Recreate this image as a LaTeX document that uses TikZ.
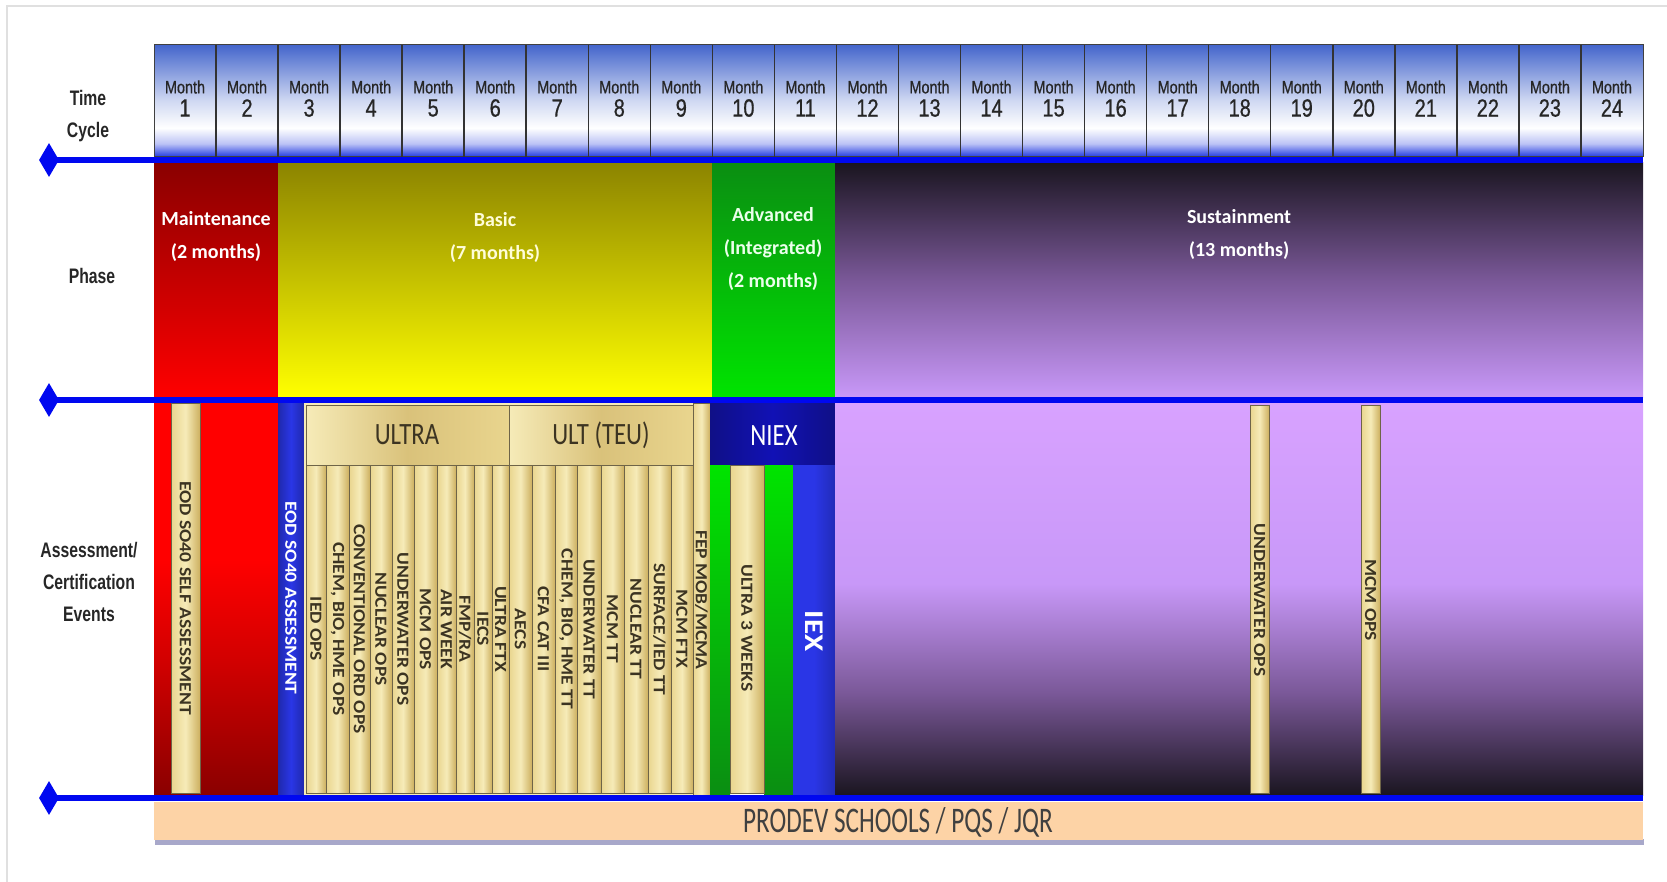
\documentclass[tikz,border=0pt]{standalone}
\usepackage{fontspec}
\usetikzlibrary{shapes.geometric}
\newfontfamily\narrowfont[FakeStretch=0.8, FakeBold=0.6]{Liberation Sans}
\newfontfamily\labelfont[FakeStretch=0.75]{Liberation Sans Bold}
\newfontfamily\calfont{Carlito}
\newfontfamily\calnarrow[FakeStretch=0.8]{Carlito}
\newfontfamily\calcond[FakeStretch=0.7]{Carlito}
\newfontfamily\colfont[FakeStretch=1.15]{Carlito}

\definecolor{hdrtop}{HTML}{4466CC}
\definecolor{hdrbot}{HTML}{2038E0}
\definecolor{lineblue}{HTML}{0008F0}
\definecolor{mntdark}{HTML}{8A0000}
\definecolor{mntred}{HTML}{FF0000}
\definecolor{basdark}{HTML}{8C8400}
\definecolor{basyel}{HTML}{FFFF00}
\definecolor{advdark}{HTML}{0A8E12}
\definecolor{advgreen}{HTML}{00E400}
\definecolor{susdark}{HTML}{1A1520}
\definecolor{susmid}{HTML}{7A5898}
\definecolor{suslight}{HTML}{C898F8}
\definecolor{suspale}{HTML}{D8A2FF}
\definecolor{goldL}{HTML}{E9D58E}
\definecolor{goldM}{HTML}{F6EBB8}
\definecolor{goldR}{HTML}{CDB060}
\definecolor{goldline}{HTML}{6E6448}
\definecolor{goldtext}{HTML}{3C3422}
\definecolor{navy}{HTML}{1414A8}
\definecolor{barblue}{HTML}{2A36E6}
\definecolor{peach}{HTML}{FDD3A6}
\definecolor{lbltext}{HTML}{262626}

% header cells: blue, white band low down, blue again at the bottom
\pgfdeclareverticalshading{monthcell}{100bp}{color(0bp)=(hdrbot); color(25bp)=(hdrbot);
  color(31bp)=(white!70!hdrbot); color(38bp)=(white); color(50bp)=(white!75!hdrtop);
  color(75bp)=(hdrtop); color(100bp)=(hdrtop)}
% light most of the way down, dark only near the bottom
\pgfdeclareverticalshading{susfade}{100bp}{color(0bp)=(susdark); color(25bp)=(susdark);
  color(38bp)=(susmid); color(52bp)=(suslight); color(75bp)=(suspale); color(100bp)=(suspale)}
\pgfdeclareverticalshading{redfade}{100bp}{color(0bp)=(mntdark); color(25bp)=(mntdark);
  color(42bp)=(mntred!82!black); color(55bp)=(mntred); color(75bp)=(mntred); color(100bp)=(mntred)}

\begin{document}
\begin{tikzpicture}[x=1pt, y=-1pt,
  monthword/.style={font=\narrowfont\fontsize{18}{18}\selectfont, text=lbltext, inner sep=0},
  monthnum/.style={font=\narrowfont\fontsize{25}{25}\selectfont, text=lbltext, inner sep=0},
  sidelbl/.style={font=\labelfont\fontsize{21}{32}\selectfont, text=lbltext, align=center, inner sep=0},
  phaselbl/.style={font=\calfont\bfseries\fontsize{20}{33}\selectfont, align=center, inner sep=0},
  collbl/.style={font=\colfont\bfseries\fontsize{17}{17}\selectfont, text=goldtext, rotate=-90, inner sep=0},
  hdrlbl/.style={font=\calnarrow\fontsize{31}{31}\selectfont, inner sep=0},
  goldcol/.style={left color=goldL, right color=goldR, middle color=goldM, draw=goldline, line width=0.8},
  tline/.style={lineblue, line width=6},
  endmark/.style={diamond, fill=lineblue, inner sep=0, minimum width=20, minimum height=34}
]
\useasboundingbox (0,0) rectangle (1667,882);
\draw[black!12, line width=1.5] (7,882) -- (7,6) -- (1667,6);

% time cycle header
\shade[shading=monthcell, draw=black!75, line width=1] (154,45) rectangle (1643,157);
\foreach \i in {1,...,23}
  \draw[black!80, line width=1.5] ({154+\i*62.04},45) -- ({154+\i*62.04},157);
\foreach \m in {1,...,24}{
  \node[monthword] (mw\m) at ({154+(\m-0.5)*62.04},87) {Month};
  \node[monthnum] (mn\m) at ({154+(\m-0.5)*62.04},108) {\m};
}

% left labels
\node[sidelbl] (tcyc) at (88,116) {Time\\Cycle};
\node[sidelbl] (phs) at (92,276) {Phase};
\node[sidelbl] (ace) at (89,582) {Assessment/\\Certification\\Events};

% phase row
\shade[top color=mntdark, bottom color=mntred] (154,163) rectangle (278,397);
\shade[top color=basdark, bottom color=basyel] (278,163) rectangle (712,397);
\shade[top color=advdark, bottom color=advgreen] (712,163) rectangle (835,397);
\shade[top color=susdark, bottom color=suslight, middle color=susmid] (835,163) rectangle (1643,397);
\node[phaselbl, text=white] (pmnt) at (216,236) {Maintenance\\(2 months)};
\node[phaselbl, text=yellow!15] (pbas) at (495,237) {Basic\\(7 months)};
\node[phaselbl, text=green!8] (padv) at (773,249) {Advanced\\(Integrated)\\(2 months)};
\node[phaselbl, text=white] (psus) at (1239,234) {Sustainment\\(13 months)};

% assessment / certification row
\shade[shading=redfade] (154,403) rectangle (278,795);
\shade[goldcol] (171,403) rectangle (200,793);
\node[collbl] (selfa) at (185.5,598) {EOD SO40 SELF ASSESSMENT};
\shade[left color=barblue!75!black, right color=barblue!75!black, middle color=barblue] (278,403) rectangle (304,795);
\node[collbl, text=white] (eoda) at (291,598) {EOD SO40 ASSESSMENT};

\fill[goldM] (304,403) rectangle (710,795);
\shade[left color=goldM, right color=goldL, middle color=goldR!70!goldM, draw=goldline, line width=0.8] (306,405) rectangle (509,465);
\shade[left color=goldM, right color=goldL, middle color=goldR!70!goldM, draw=goldline, line width=0.8] (509,405) rectangle (693,465);
\node[hdrlbl, text=goldtext] (ultra) at (407,435) {ULTRA};
\node[hdrlbl, text=goldtext] (ulteu) at (601,435) {ULT (TEU)};
\foreach \xa/\xb/\txt in {306/326/IED OPS, 326/349/{CHEM, BIO, HME OPS}, 349/370/CONVENTIONAL ORD OPS,
    370/392/NUCLEAR OPS, 392/414/UNDERWATER OPS, 414/437/MCM OPS, 437/456/AIR WEEK,
    456/474/{FMP/RA}, 474/492/IECS, 492/509/ULTRA FTX, 509/532/AECS, 532/555/CFA CAT III,
    555/577/{CHEM, BIO, HME TT}, 577/601/UNDERWATER TT, 601/624/MCM TT, 624/648/NUCLEAR TT,
    648/671/{SURFACE/IED TT}, 671/693/MCM FTX}{
  \shade[goldcol] (\xa,465) rectangle (\xb,793);
  \node[collbl] (col\xa) at ({(\xa+\xb)/2},629) {\txt};
}
\shade[goldcol] (693,403) rectangle (710,795);
\node[collbl] (fep) at (701.5,600) {FEP MOB/MCMA};

% advanced: NIEX / IEX
\shade[left color=navy!80!black, right color=navy!80!black, middle color=navy!85!blue] (710,403) rectangle (835,465);
\node[hdrlbl, text=white] (niex) at (774,436) {NIEX};
\shade[top color=advgreen, bottom color=advdark] (710,465) rectangle (730,795);
\shade[top color=advgreen, bottom color=advdark] (764,465) rectangle (793,795);
\shade[goldcol] (730,465) rectangle (764,793);
\node[collbl] (u3w) at (747,628) {ULTRA 3 WEEKS};
\shade[left color=barblue, right color=barblue!80!black, middle color=barblue] (793,465) rectangle (835,795);
\node[collbl, text=white, font=\colfont\bfseries\fontsize{27}{27}\selectfont] (iex) at (814,631) {IEX};

% sustainment
\shade[shading=susfade] (835,403) rectangle (1643,795);
\shade[goldcol] (1250,405) rectangle (1269,793);
\node[collbl] (uwops) at (1259.5,600) {UNDERWATER OPS};
\shade[goldcol] (1361,405) rectangle (1380,793);
\node[collbl] (mcmops) at (1370.5,600) {MCM OPS};

% blue time lines with diamond ends
\foreach \k/\yy in {1/160, 2/400, 3/798}{
  \node[endmark] (d\k) at (49,\yy) {};
  \coordinate (e\k) at (1643,\yy);
  \draw[tline] (d\k.center) -- (e\k);
}

% schools bar
\fill[blue!25!gray, opacity=0.55] (155,839) rectangle (1644,845);
\fill[peach] (154,802) rectangle (1643,840);
\node[font=\calcond\fontsize{36}{36}\selectfont, text=black!75, inner sep=0] (prodev) at (898,822) {PRODEV SCHOOLS / PQS / JQR};
\end{tikzpicture}
\end{document}
